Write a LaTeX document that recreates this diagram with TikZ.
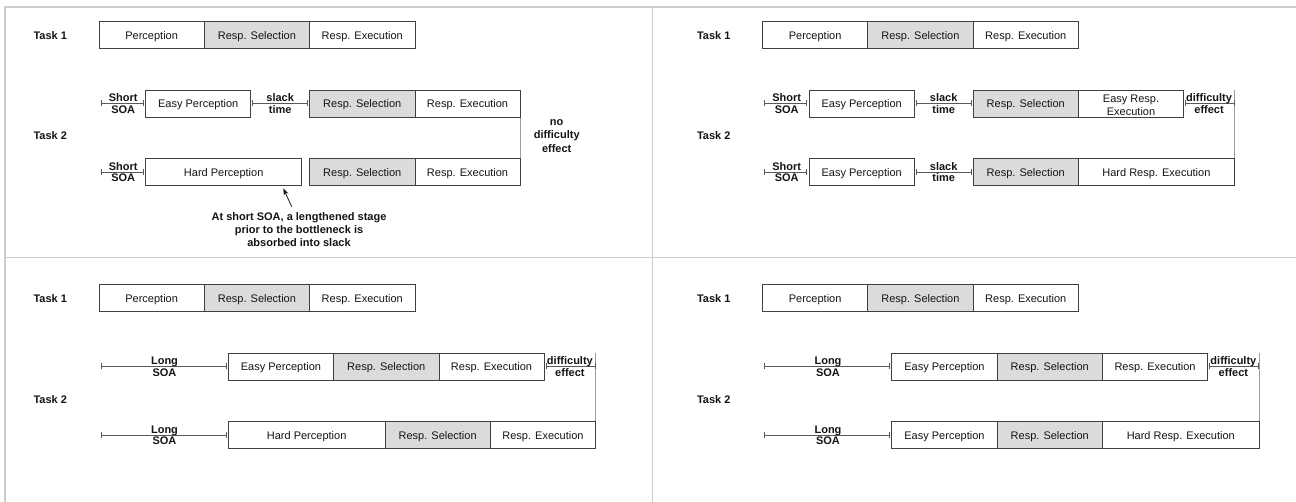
\documentclass[tikz,border=0pt]{standalone}
\usepackage{fontspec}
\setmainfont{Liberation Sans}
\usetikzlibrary{arrows.meta}
\pgfdeclarelayer{bg}
\pgfsetlayers{bg,main}
\definecolor{framec}{gray}{0.80}
\definecolor{outl}{gray}{0.25}
\definecolor{selc}{gray}{0.86}
\definecolor{soac}{gray}{0.35}
\definecolor{vlinec}{gray}{0.62}
\definecolor{txt}{gray}{0.08}
\tikzset{
  stage/.style={draw=outl, line width=0.8pt, minimum height=27pt, inner sep=0pt, outer sep=0pt,
    anchor=north west, font=\fontsize{11}{12.5}\selectfont, text=txt, text height=9pt, text depth=0pt},
  selstage/.style={stage, fill=selc},
  twoline/.style={align=center, text height=24pt, text depth=0pt},
  lbl/.style={font=\fontsize{11}{13.3}\selectfont\bfseries, inner sep=0pt, text=txt},
  uplbl/.style={lbl, midway, anchor=base, yshift=1.8pt},
  lowlbl/.style={lbl, midway, anchor=base, yshift=-9.8pt},
  interval/.style={draw=soac, line width=0.8pt,
    {Bar[width=6pt,line width=0.8pt]}-{Bar[width=6pt,line width=0.8pt]}},
  joinline/.style={draw=vlinec, line width=0.8pt},
  framel/.style={draw=framec, line width=1.2pt},
  pointer/.style={draw=txt, line width=0.8pt, -{Stealth[length=7pt,width=5pt]}},
}
\begin{document}
\begin{tikzpicture}[x=1pt,y=-1pt]
\useasboundingbox (0,0) rectangle (1296,502);
% frame
\draw[framel] (5,502) -- (5,7) -- (1296,7);
\draw[framel] (5,257.5) -- (1296,257.5);
\draw[framel] (652.5,7) -- (652.5,502);

% ================= Quadrant 1 =================
\begin{scope}
\node[lbl, anchor=base west] (a-t1) at (33.3,40) {Task 1};
\node[lbl, anchor=base west] (a-t2) at (33.3,140) {Task 2};
\node[stage, minimum width=105.3pt] (a-p0) at (99,21.5) {Perception};
\node[selstage, minimum width=105.3pt] (a-s0) at (a-p0.north east) {Resp. Selection};
\node[stage, minimum width=105.3pt] (a-x0) at (a-s0.north east) {Resp. Execution};
% row A
\coordinate (a-o1) at (100.7,103.5);
\node[stage, minimum width=105pt] (a-e1) at (145.7,90) {Easy Perception};
\node[selstage, minimum width=105.3pt] (a-rs1) at (309.6,90) {Resp. Selection};
\node[stage, minimum width=105.3pt] (a-re1) at (a-rs1.north east) {Resp. Execution};
\draw[interval, shorten >=2pt] (a-o1) -- (a-e1) node[uplbl] {Short} node[lowlbl] {SOA};
\draw[interval, shorten <=1.5pt, shorten >=1.5pt] (a-e1) -- (a-rs1) node[uplbl] {slack} node[lowlbl] {time};
% row B
\coordinate (a-o2) at (100.7,172);
\node[stage, minimum width=156pt] (a-h2) at (145.7,158.5) {Hard Perception};
\node[selstage, minimum width=105.3pt] (a-rs2) at (309.6,158.5) {Resp. Selection};
\node[stage, minimum width=105.3pt] (a-re2) at (a-rs2.north east) {Resp. Execution};
\draw[interval, shorten >=2pt] (a-o2) -- (a-h2) node[uplbl] {Short} node[lowlbl] {SOA};
\begin{pgfonlayer}{bg}
\draw[joinline] (a-re1.north east) -- (a-re2.south east);
\end{pgfonlayer}
\node[lbl, anchor=base, align=center] (a-nd) at (556.7,152.3) {no\\difficulty\\effect};
\node[lbl, anchor=base, align=center] (a-note) at (299,247)
  {At short SOA, a lengthened stage\\prior to the bottleneck is\\absorbed into slack};
\coordinate (a-tail) at (291.7,206.7);
\coordinate (a-tip) at (283.3,188.3);
\draw[pointer] (a-tail) -- (a-tip);
\end{scope}

% ================= Quadrant 2 =================
\begin{scope}[shift={(663.5,0)}]
\node[lbl, anchor=base west] (b-t1) at (33.3,40) {Task 1};
\node[lbl, anchor=base west] (b-t2) at (33.3,140) {Task 2};
\node[stage, minimum width=105.3pt] (b-p0) at (99,21.5) {Perception};
\node[selstage, minimum width=105.3pt] (b-s0) at (b-p0.north east) {Resp. Selection};
\node[stage, minimum width=105.3pt] (b-x0) at (b-s0.north east) {Resp. Execution};
% row A
\coordinate (b-o1) at (100.7,103.5);
\node[stage, minimum width=105pt] (b-e1) at (145.7,90) {Easy Perception};
\node[selstage, minimum width=105.3pt] (b-rs1) at (309.6,90) {Resp. Selection};
\node[stage, minimum width=105.3pt, twoline] (b-re1) at (b-rs1.north east) {Easy Resp.\\Execution};
\draw[interval, shorten >=2pt] (b-o1) -- (b-e1) node[uplbl] {Short} node[lowlbl] {SOA};
\draw[interval, shorten <=1.5pt, shorten >=1.5pt] (b-e1) -- (b-rs1) node[uplbl] {slack} node[lowlbl] {time};
% row B
\coordinate (b-o2) at (100.7,172);
\node[stage, minimum width=105pt] (b-e2) at (145.7,158.5) {Easy Perception};
\node[selstage, minimum width=105.3pt] (b-rs2) at (309.6,158.5) {Resp. Selection};
\node[stage, minimum width=156pt] (b-re2) at (b-rs2.north east) {Hard Resp. Execution};
\draw[interval, shorten >=2pt] (b-o2) -- (b-e2) node[uplbl] {Short} node[lowlbl] {SOA};
\draw[interval, shorten <=1.5pt, shorten >=1.5pt] (b-e2) -- (b-rs2) node[uplbl] {slack} node[lowlbl] {time};
\coordinate (b-de) at (b-re1.east -| b-re2.east);
\draw[interval, shorten <=1.5pt] (b-re1.east) -- (b-de) node[uplbl] {difficulty} node[lowlbl] {effect};
\begin{pgfonlayer}{bg}
\draw[joinline] (b-re2.south east) -- (b-re2.north east |- b-re1.north);
\end{pgfonlayer}
\end{scope}

% ================= Quadrant 3 =================
\begin{scope}[shift={(0,263)}]
\node[lbl, anchor=base west] (c-t1) at (33.3,40) {Task 1};
\node[lbl, anchor=base west] (c-t2) at (33.3,140) {Task 2};
\node[stage, minimum width=105.3pt] (c-p0) at (99,21.5) {Perception};
\node[selstage, minimum width=105.3pt] (c-s0) at (c-p0.north east) {Resp. Selection};
\node[stage, minimum width=105.3pt] (c-x0) at (c-s0.north east) {Resp. Execution};
% row A
\coordinate (c-o1) at (100.7,103.5);
\node[stage, minimum width=105.3pt] (c-e1) at (228.3,90) {Easy Perception};
\node[selstage, minimum width=105.3pt] (c-rs1) at (c-e1.north east) {Resp. Selection};
\node[stage, minimum width=105.3pt] (c-re1) at (c-rs1.north east) {Resp. Execution};
\draw[interval, shorten >=2pt] (c-o1) -- (c-e1) node[uplbl] {Long} node[lowlbl] {SOA};
% row B
\coordinate (c-o2) at (100.7,172);
\node[stage, minimum width=156.7pt] (c-h2) at (228.3,158.5) {Hard Perception};
\node[selstage, minimum width=105.3pt] (c-rs2) at (c-h2.north east) {Resp. Selection};
\node[stage, minimum width=105.3pt] (c-re2) at (c-rs2.north east) {Resp. Execution};
\draw[interval, shorten >=2pt] (c-o2) -- (c-h2) node[uplbl] {Long} node[lowlbl] {SOA};
\coordinate (c-de) at (c-re1.east -| c-re2.east);
\draw[interval, shorten <=1.5pt] (c-re1.east) -- (c-de) node[uplbl] {difficulty} node[lowlbl] {effect};
\begin{pgfonlayer}{bg}
\draw[joinline] (c-re2.south east) -- (c-re2.north east |- c-re1.north);
\end{pgfonlayer}
\end{scope}

% ================= Quadrant 4 =================
\begin{scope}[shift={(663.5,263)}]
\node[lbl, anchor=base west] (d-t1) at (33.3,40) {Task 1};
\node[lbl, anchor=base west] (d-t2) at (33.3,140) {Task 2};
\node[stage, minimum width=105.3pt] (d-p0) at (99,21.5) {Perception};
\node[selstage, minimum width=105.3pt] (d-s0) at (d-p0.north east) {Resp. Selection};
\node[stage, minimum width=105.3pt] (d-x0) at (d-s0.north east) {Resp. Execution};
% row A
\coordinate (d-o1) at (100.7,103.5);
\node[stage, minimum width=105.3pt] (d-e1) at (228.3,90) {Easy Perception};
\node[selstage, minimum width=105.3pt] (d-rs1) at (d-e1.north east) {Resp. Selection};
\node[stage, minimum width=105.3pt] (d-re1) at (d-rs1.north east) {Resp. Execution};
\draw[interval, shorten >=2pt] (d-o1) -- (d-e1) node[uplbl] {Long} node[lowlbl] {SOA};
% row B
\coordinate (d-o2) at (100.7,172);
\node[stage, minimum width=105.3pt] (d-e2) at (228.3,158.5) {Easy Perception};
\node[selstage, minimum width=105.3pt] (d-rs2) at (d-e2.north east) {Resp. Selection};
\node[stage, minimum width=156.7pt] (d-re2) at (d-rs2.north east) {Hard Resp. Execution};
\draw[interval, shorten >=2pt] (d-o2) -- (d-e2) node[uplbl] {Long} node[lowlbl] {SOA};
\coordinate (d-de) at (d-re1.east -| d-re2.east);
\draw[interval, shorten <=1.5pt] (d-re1.east) -- (d-de) node[uplbl] {difficulty} node[lowlbl] {effect};
\begin{pgfonlayer}{bg}
\draw[joinline] (d-re2.south east) -- (d-re2.north east |- d-re1.north);
\end{pgfonlayer}
\end{scope}
\end{tikzpicture}
\end{document}
